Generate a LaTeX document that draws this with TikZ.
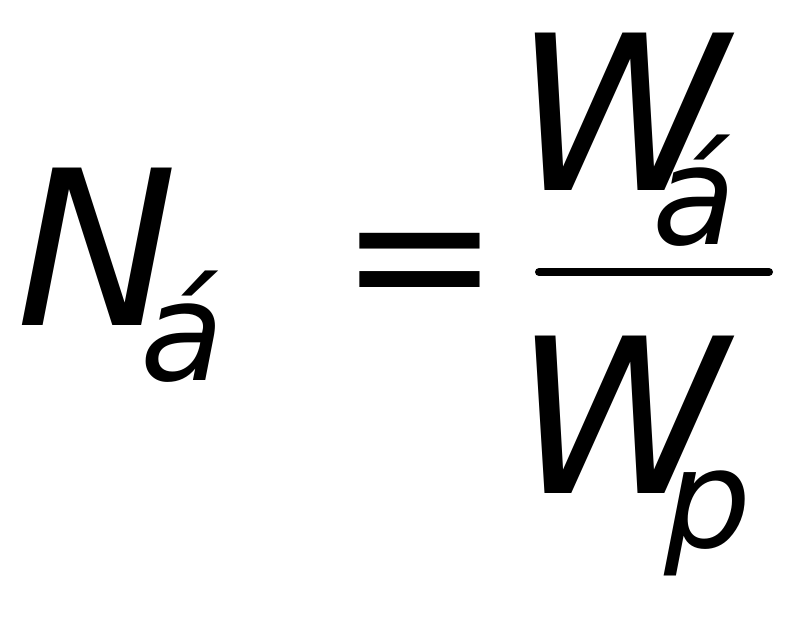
\documentclass[tikz,border=0pt]{standalone}
\usepackage{fontspec}
\newfontfamily\dvs{DejaVu Sans}
\begin{document}
\begin{tikzpicture}[x=1pt,y=-1pt,
  big/.style={inner sep=0pt,anchor=base west,font=\dvs\itshape\fontsize{216}{216}\selectfont},
  small/.style={inner sep=0pt,anchor=base west,font=\dvs\itshape\fontsize{137}{137}\selectfont},
  eqs/.style={inner sep=0pt,anchor=base west,font=\dvs\fontsize{192}{192}\selectfont},
  rule/.style={line width=8pt,line cap=round}]
\useasboundingbox (0,0) rectangle (806,620);
\node[big] (N) at (16,326) {N};
\node[small] (Nsub) at (140,380) {á};
\node[eqs] (eq) at (339,321) {=};
\node[big] (Wt) at (514,191) {W};
\node[small] (Wtsub) at (652,245) {á};
\coordinate (bl) at (539,272);
\coordinate (br) at (769,272);
\draw[rule] (bl) -- (br);
\node[big] (Wb) at (514,493) {W};
\node[small] (Wbsub) at (664,547) {p};
\end{tikzpicture}
\end{document}
